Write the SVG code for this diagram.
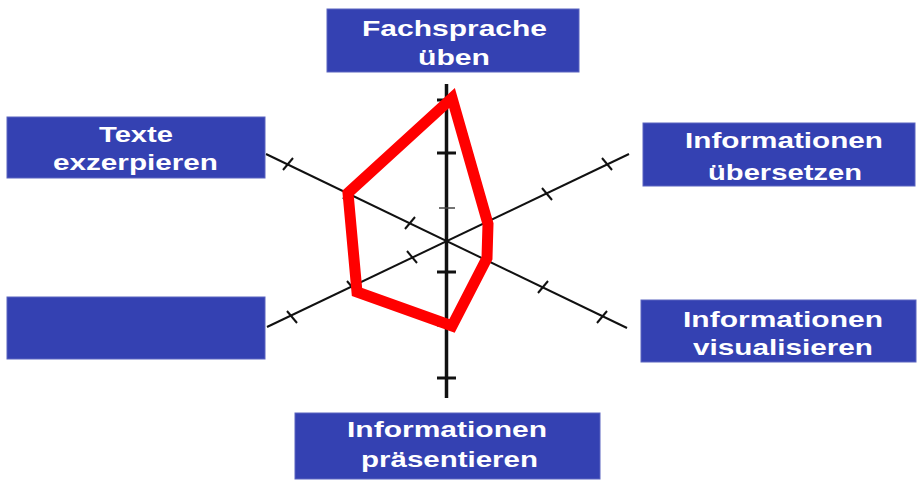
<svg xmlns="http://www.w3.org/2000/svg" width="918" height="480" viewBox="0 0 918 480">
<style>
.box{fill:#3441b2;stroke:#5a64c0;stroke-width:1}
.lbl{font-family:"Liberation Sans",Arial,sans-serif;font-weight:bold;font-size:22.5px;fill:#ffffff;text-anchor:middle}
.ax{stroke:#111;stroke-width:2;fill:none}
.vax{stroke:#111;stroke-width:3.5;fill:none}
.tk{stroke:#111;stroke-width:2}
.vtk{stroke:#111;stroke-width:3}
</style>
<rect width="918" height="480" fill="#ffffff"/>
<g id="connectors">
<line class="ax" x1="266" y1="154" x2="627" y2="328"/>
<line class="ax" x1="267" y1="327" x2="629" y2="154"/>
<line class="vax" x1="446.5" y1="84" x2="446.5" y2="398"/>
<g class="tk">
<line x1="283" y1="170" x2="293" y2="158"/>
<line x1="343" y1="199" x2="353" y2="187"/>
<line x1="405" y1="229" x2="415" y2="217"/>
<line x1="481" y1="264" x2="491" y2="252"/>
<line x1="538" y1="293" x2="548" y2="281"/>
<line x1="597" y1="323" x2="607" y2="311"/>
<line x1="287" y1="311" x2="297" y2="323"/>
<line x1="347" y1="281" x2="357" y2="293"/>
<line x1="407" y1="251" x2="417" y2="263"/>
<line x1="542" y1="188" x2="552" y2="200"/>
<line x1="602" y1="158" x2="612" y2="170"/>
</g>
<g class="vtk">
<line x1="437" y1="100" x2="456" y2="100"/>
<line x1="437" y1="153" x2="456" y2="153"/>
<line x1="439" y1="208" x2="455" y2="208" style="stroke:#444;stroke-width:1.5"/>
<line x1="437" y1="272" x2="456" y2="272"/>
<line x1="437" y1="325" x2="456" y2="325"/>
<line x1="437" y1="378" x2="456" y2="378"/>
</g>
<polygon points="452,98 488,224 487,258 452,326 357,292 348,193" fill="none" stroke="#ff0000" stroke-width="11" stroke-linejoin="miter"/>
</g>
<g id="n-fachsprache">
<rect class="box" x="327" y="9" width="252" height="63"/>
<text class="lbl" x="454.5" y="36" textLength="185" lengthAdjust="spacingAndGlyphs">Fachsprache</text>
<text class="lbl" x="454" y="65" textLength="72" lengthAdjust="spacingAndGlyphs">üben</text>
</g>
<g id="n-texte">
<rect class="box" x="7" y="117" width="258" height="61"/>
<text class="lbl" x="136" y="142" textLength="74" lengthAdjust="spacingAndGlyphs">Texte</text>
<text class="lbl" x="135.5" y="170" textLength="165" lengthAdjust="spacingAndGlyphs">exzerpieren</text>
</g>
<g id="n-uebersetzen">
<rect class="box" x="643" y="123" width="272" height="63"/>
<text class="lbl" x="784" y="148" textLength="198" lengthAdjust="spacingAndGlyphs">Informationen</text>
<text class="lbl" x="785" y="180" textLength="154" lengthAdjust="spacingAndGlyphs">übersetzen</text>
</g>
<g id="n-empty">
<rect class="box" x="7" y="297" width="258" height="62"/>
</g>
<g id="n-visualisieren">
<rect class="box" x="641" y="300" width="275" height="62"/>
<text class="lbl" x="783" y="327" textLength="200" lengthAdjust="spacingAndGlyphs">Informationen</text>
<text class="lbl" x="783" y="355" textLength="180" lengthAdjust="spacingAndGlyphs">visualisieren</text>
</g>
<g id="n-praesentieren">
<rect class="box" x="295" y="413" width="305" height="66"/>
<text class="lbl" x="447" y="437" textLength="200" lengthAdjust="spacingAndGlyphs">Informationen</text>
<text class="lbl" x="449.5" y="467" textLength="177" lengthAdjust="spacingAndGlyphs">präsentieren</text>
</g>
</svg>
